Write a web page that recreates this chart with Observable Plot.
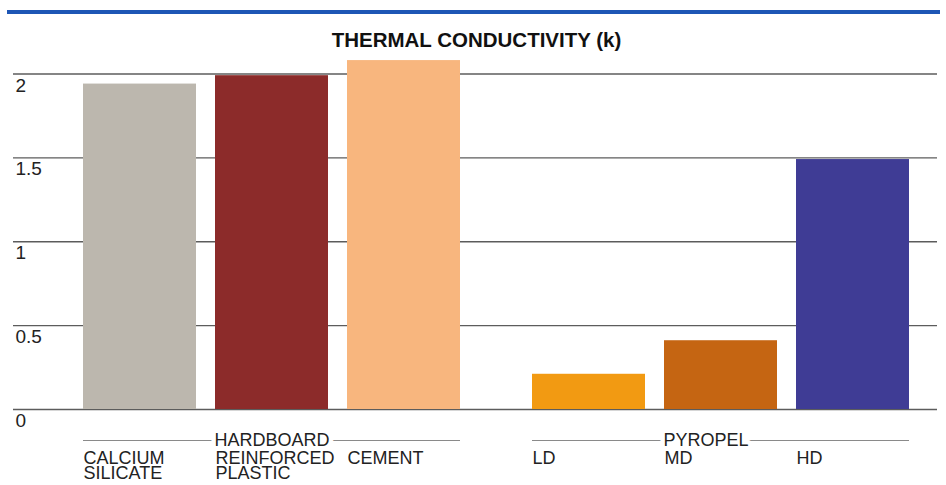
<!DOCTYPE html>
<html>
<head>
<meta charset="utf-8">
<script src="https://cdn.jsdelivr.net/npm/d3@7"></script>
<script src="https://cdn.jsdelivr.net/npm/@observablehq/plot@0.6"></script>
<style>
  body { margin: 0; background: #fff; font-family: "Liberation Sans", Arial, Helvetica, sans-serif; }
  #wrap { position: relative; width: 946px; height: 485px; overflow: hidden; }
  #grid, #chart { position: absolute; left: 0; top: 0; }
  #grid { z-index: 0; }
  #chart { z-index: 1; }
  #topRule { position: absolute; left: 7px; top: 10px; width: 933px; height: 4px; background: #1d56b5; z-index: 2; }
  #title { position: absolute; left: 0; top: 30px; width: 953px; text-align: center; font-weight: bold;
           font-size: 20.5px; line-height: 1; color: #111; z-index: 2; }
</style>
</head>
<body>
<div id="wrap">
  <div id="grid"></div>
  <div id="chart"></div>
  <div id="topRule"></div>
  <div id="title">THERMAL CONDUCTIVITY (k)</div>
</div>
<script>
// ---- data ----
const materials = ["CALCIUM SILICATE", "HARDBOARD REINFORCED PLASTIC", "CEMENT", "PYROPEL LD", "PYROPEL MD", "PYROPEL HD"];
const groups = ["OTHER", "OTHER", "OTHER", "PYROPEL", "PYROPEL", "PYROPEL"];
const headers = ["", "HARDBOARD", "", "", "PYROPEL", ""];
const labels = ["CALCIUM\nSILICATE", "REINFORCED\nPLASTIC", "CEMENT", "LD", "MD", "HD"];
const kValues = [1.94, 1.99, 2.08, 0.21, 0.41, 1.49];
const barColors = ["#bcb7ae", "#8c2b2a", "#f8b67e", "#f29a12", "#c56512", "#3f3c95"];
const yTicks = [0, 0.5, 1, 1.5, 2];
const yTickLabels = ["0", "0.5", "1", "1.5", "2"];

// build rows (slot = position within its group)
const counters = {};
const rows = materials.map((m, i) => {
  const g = groups[i];
  counters[g] = (counters[g] ?? -1) + 1;
  return {material: m, group: g, slot: counters[g], header: headers[i], label: labels[i], k: kValues[i], color: barColors[i]};
});

const groupDomain = ["OTHER", "PYROPEL"];
const slotDomain = [0, 1, 2];
const font = "'Liberation Sans', Arial, Helvetica, sans-serif";
const labelDx = -56.5; // shift from band centre to band left edge

const frame = {
  width: 946, height: 485,
  marginTop: 73.5, marginBottom: 76, marginLeft: 13, marginRight: 9,
  style: {background: "transparent", fontFamily: font, color: "#222"}
};

// background layer: full-width gridlines and y tick labels
const grid = Plot.plot({
  ...frame,
  y: {domain: [0, 2], axis: null},
  marks: [
    Plot.ruleY(yTicks, {stroke: "#5c5c5c", strokeWidth: 1.3}),
    Plot.text(yTicks, {
      y: d => d, text: (d, i) => yTickLabels[i],
      frameAnchor: "left", textAnchor: "start", lineAnchor: "top",
      dx: 2, dy: 4, fontSize: 19, fill: "#222"
    })
  ]
});
document.getElementById("grid").appendChild(grid);

// foreground layer: grouped bars and category labels
const chart = Plot.plot({
  ...frame,
  fx: {domain: groupDomain, paddingInner: 0.16, paddingOuter: 0.108, align: 0.72, axis: null, label: null},
  x: {type: "band", domain: slotDomain, paddingInner: 0.147, paddingOuter: 0, axis: null, label: null},
  y: {domain: [0, 2], axis: null},
  color: {type: "identity"},
  marks: [
    Plot.barY(rows, {fx: "group", x: "slot", y: "k", fill: "color"}),
    Plot.ruleY([0], {dy: 31, stroke: "#8a8a8a", strokeWidth: 1.2}),
    Plot.text(rows, {
      fx: "group", x: "slot", text: "header", frameAnchor: "bottom",
      textAnchor: "start", lineAnchor: "top", dx: labelDx - 1, dy: 24,
      fontSize: 18, fill: "#222", stroke: "white", strokeWidth: 9
    }),
    Plot.text(rows, {
      fx: "group", x: "slot", text: "label", frameAnchor: "bottom",
      textAnchor: "start", lineAnchor: "top", dx: labelDx, dy: 43, lineHeight: 0.86,
      fontSize: 18, fill: "#222"
    })
  ]
});
document.getElementById("chart").appendChild(chart);
</script>
</body>
</html>
